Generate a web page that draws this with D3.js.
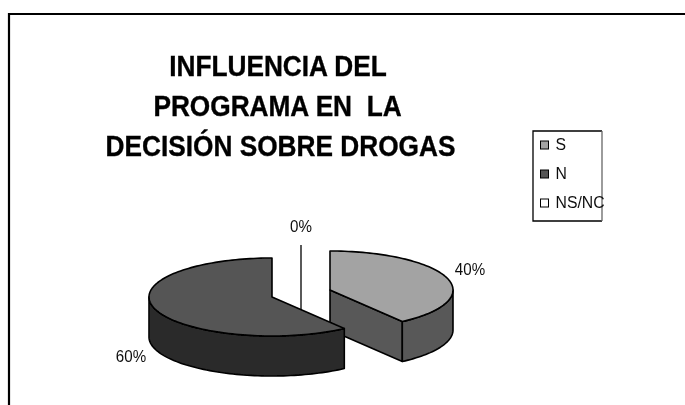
<!DOCTYPE html>
<html><head><meta charset="utf-8">
<script src="https://cdnjs.cloudflare.com/ajax/libs/d3/7.8.5/d3.min.js"></script>
<style>html,body{margin:0;padding:0;background:#fff}svg{display:block}text{font-family:"Liberation Sans",Arial,sans-serif;fill:#111}</style>
</head><body><div id="c"></div>
<script>
const categories = ["S", "N", "NS/NC"];
const values = [40, 60, 0];
const percentLabels = ["40%", "60%", "0%"];
const titleLines = ["INFLUENCIA DEL", "PROGRAMA EN  LA", "DECISIÓN SOBRE DROGAS"];
const topColors = ["#a3a3a3", "#555555", "#ffffff"];
const wallColors = ["#585858", "#2b2b2b", "#ffffff"];

const W = 685, H = 405, RX = 123, RY = 39, DEPTH = 40, SQUEEZE = 0.89, TITLE_SQUEEZE = 0.905, LEGEND_SQUEEZE = 0.93;
const centers = [[330, 290], [272, 297], [301, 310]];
const labelPos = [[470, 275], [131, 362], [301, 231.5]];

const svg = d3.select("#c").append("svg").attr("width", W).attr("height", H);
const defs = svg.append("defs");
defs.append("filter").attr("id", "soft").append("feGaussianBlur").attr("stdDeviation", 0.6);
const root = svg.append("g").attr("filter", "url(#soft)");

root.append("path").attr("d", d3.line()([[9, H], [9, 14], [W, 14]]))
  .attr("fill", "none").attr("stroke", "#000").attr("stroke-width", 2.2);

root.append("g").selectAll("text").data(titleLines).join("text")
  .attr("transform", (d, i) => `translate(${[278, 277.5, 280.5][i]},${75.5 + i * 40.3}) scale(${TITLE_SQUEEZE},1)`)
  .attr("text-anchor", "middle").attr("font-size", 29).attr("font-weight", "bold")
  .attr("stroke", "#000").attr("stroke-width", 0.35)
  .style("white-space", "pre").style("fill", "#000")
  .text(d => d);

const pie = d3.pie().sort(null).value(d => d)(values);

function rim(c, a0, a1, dy) {
  const n = Math.max(2, Math.ceil((a1 - a0) / 0.03));
  return d3.range(n + 1).map(i => {
    const a = a0 + (a1 - a0) * i / n;
    return [c[0] + RX * Math.sin(a), c[1] - RY * Math.cos(a) + dy];
  });
}
const line = d3.line();
const marks = root.append("g").attr("stroke", "#000").attr("stroke-width", 1.6).attr("stroke-linejoin", "round");

pie.forEach((p, i) => {
  const c = centers[i];
  if (p.endAngle === p.startAngle) {
    root.append("line").attr("x1", c[0]).attr("x2", c[0]).attr("y1", c[1]).attr("y2", c[1] - 65)
      .attr("stroke", "#000").attr("stroke-width", 1.3);
    return;
  }
  const g = marks.append("g");
  const a0 = p.startAngle, a1 = p.endAngle;
  if (i === 0) {
    const end = rim(c, a1, a1, 0)[0];
    g.append("path").attr("fill", wallColors[i])
      .attr("d", line([c, end, [end[0], end[1] + DEPTH], [c[0], c[1] + DEPTH]]) + "Z");
  }
  const from = Math.max(a0, Math.PI / 2), to = Math.min(a1, 3 * Math.PI / 2);
  const upper = rim(c, from, to, 0), lower = rim(c, from, to, DEPTH).reverse();
  g.append("path").attr("fill", wallColors[i]).attr("d", line(upper.concat(lower)) + "Z");
  g.append("path").attr("fill", topColors[i]).attr("d", line([c].concat(rim(c, a0, a1, 0))) + "Z");
});

root.append("g").selectAll("text").data(percentLabels).join("text")
  .attr("transform", (d, i) => `translate(${labelPos[i][0]},${labelPos[i][1]}) scale(${SQUEEZE},1)`)
  .attr("text-anchor", "middle").attr("font-size", 17)
  .text(d => d);

const legend = root.append("g");
legend.append("path").attr("d", d3.line()([[602, 131], [533, 131], [533, 221], [602, 221]]))
  .attr("fill", "none").attr("stroke", "#000").attr("stroke-width", 1.3);
legend.append("line").attr("x1", 602).attr("x2", 602).attr("y1", 131).attr("y2", 221)
  .attr("stroke", "#666").attr("stroke-width", 1.3);
const rowY = d3.scalePoint().domain(categories).range([145, 203]);
const rows = legend.selectAll("g").data(categories).join("g");
rows.append("rect").attr("x", 540.5).attr("y", d => rowY(d) - 4).attr("width", 8).attr("height", 8)
  .attr("fill", (d, i) => topColors[i]).attr("stroke", "#000").attr("stroke-width", 1);
rows.append("text").attr("transform", d => `translate(555.5,${rowY(d) + 5}) scale(${LEGEND_SQUEEZE},1)`)
  .attr("font-size", 17).text(d => d);
</script></body></html>
